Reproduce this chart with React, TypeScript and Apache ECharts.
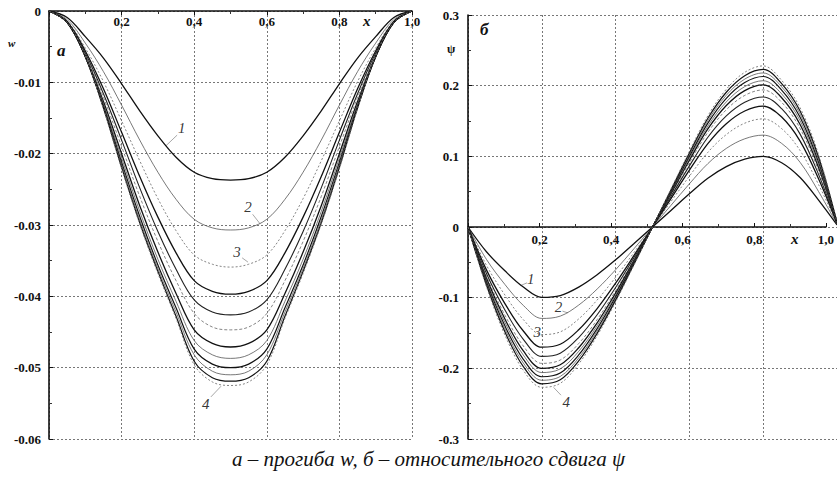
import React, { useEffect, useRef } from "react";
import * as echarts from "echarts";

// x positions of the read-off points (both panels)
const XS = [0, 0.05, 0.1, 0.15, 0.2, 0.25, 0.3, 0.35, 0.4, 0.45, 0.5, 0.55, 0.6, 0.65, 0.7, 0.75, 0.8, 0.85, 0.9, 0.95, 1.0];

// panel a: deflection w (12 curves, 1 = shallowest, 12 = deepest "4")
const W1 = [0, -0.0009, -0.0036, -0.0066, -0.0102, -0.014, -0.0175, -0.0205, -0.0226, -0.0235, -0.0237, -0.0235, -0.0226, -0.0205, -0.0175, -0.014, -0.0102, -0.0066, -0.0036, -0.0009, 0];
const W2 = [0, -0.0012, -0.0045, -0.0085, -0.0132, -0.0181, -0.0226, -0.0264, -0.0292, -0.0304, -0.0307, -0.0304, -0.0292, -0.0264, -0.0226, -0.0181, -0.0132, -0.0085, -0.0045, -0.0012, 0];
const W3 = [0, -0.0014, -0.0052, -0.0099, -0.0154, -0.021, -0.0263, -0.0308, -0.0342, -0.0355, -0.0359, -0.0355, -0.0342, -0.0308, -0.0263, -0.021, -0.0154, -0.0099, -0.0052, -0.0014, 0];
const W4 = [0, -0.0015, -0.0056, -0.0109, -0.017, -0.0232, -0.0289, -0.0339, -0.0378, -0.0393, -0.0397, -0.0393, -0.0378, -0.0339, -0.0289, -0.0232, -0.017, -0.0109, -0.0056, -0.0015, 0];
const W5 = [0, -0.0015, -0.0059, -0.0116, -0.0181, -0.0248, -0.0309, -0.0362, -0.0405, -0.0422, -0.0426, -0.0422, -0.0405, -0.0362, -0.0309, -0.0248, -0.0181, -0.0116, -0.0059, -0.0015, 0];
const W6 = [0, -0.0016, -0.0061, -0.0121, -0.019, -0.026, -0.0323, -0.0378, -0.0424, -0.0443, -0.0447, -0.0443, -0.0424, -0.0378, -0.0323, -0.026, -0.019, -0.0121, -0.0061, -0.0016, 0];
const W7 = [0, -0.0016, -0.0063, -0.0127, -0.02, -0.0273, -0.0338, -0.0396, -0.0447, -0.0466, -0.0471, -0.0466, -0.0447, -0.0396, -0.0338, -0.0273, -0.02, -0.0127, -0.0063, -0.0016, 0];
const W8 = [0, -0.0016, -0.0064, -0.013, -0.0206, -0.0281, -0.0348, -0.0407, -0.0462, -0.0482, -0.0487, -0.0482, -0.0462, -0.0407, -0.0348, -0.0281, -0.0206, -0.013, -0.0064, -0.0016, 0];
const W9 = [0, -0.0016, -0.0064, -0.0133, -0.0212, -0.0288, -0.0356, -0.0416, -0.0474, -0.0495, -0.05, -0.0495, -0.0474, -0.0416, -0.0356, -0.0288, -0.0212, -0.0133, -0.0064, -0.0016, 0];
const W10 = [0, -0.0016, -0.0064, -0.0135, -0.0215, -0.0293, -0.0361, -0.0422, -0.0482, -0.0505, -0.051, -0.0505, -0.0482, -0.0422, -0.0361, -0.0293, -0.0215, -0.0135, -0.0064, -0.0016, 0];
const W11 = [0, -0.0016, -0.0064, -0.0136, -0.0219, -0.0297, -0.0365, -0.0428, -0.0491, -0.0514, -0.0519, -0.0514, -0.0491, -0.0428, -0.0365, -0.0297, -0.0219, -0.0136, -0.0064, -0.0016, 0];
const W12 = [0, -0.0016, -0.0063, -0.0137, -0.0221, -0.0299, -0.0368, -0.0431, -0.0496, -0.052, -0.0525, -0.052, -0.0496, -0.0431, -0.0368, -0.0299, -0.0221, -0.0137, -0.0063, -0.0016, 0];

// panel б: relative shear psi
const P1 = [0, -0.035, -0.062, -0.085, -0.0995, -0.097, -0.085, -0.0675, -0.0465, -0.0235, 0, 0.0235, 0.047, 0.069, 0.0855, 0.096, 0.1, 0.091, 0.07, 0.038, 0.003];
const P2 = [0, -0.0458, -0.0813, -0.111, -0.1294, -0.1261, -0.1105, -0.0878, -0.0605, -0.0306, 0, 0.0306, 0.0611, 0.0897, 0.1112, 0.1248, 0.13, 0.1183, 0.0915, 0.0502, 0.0039];
const P3 = [0, -0.0542, -0.0962, -0.1311, -0.1522, -0.1484, -0.1301, -0.1033, -0.0711, -0.036, 0, 0.036, 0.0719, 0.1056, 0.1308, 0.1469, 0.153, 0.1392, 0.1082, 0.0601, 0.0046];
const P4 = [0, -0.0607, -0.1084, -0.1472, -0.1701, -0.1659, -0.1454, -0.1154, -0.0795, -0.0402, 0, 0.0402, 0.0804, 0.118, 0.1462, 0.1642, 0.171, 0.1556, 0.1216, 0.0682, 0.0051];
const P5 = [0, -0.0657, -0.1174, -0.159, -0.1831, -0.1785, -0.1564, -0.1242, -0.0856, -0.0432, 0, 0.0432, 0.0865, 0.127, 0.1573, 0.1766, 0.184, 0.1674, 0.1314, 0.0745, 0.0055];
const P6 = [0, -0.0696, -0.1247, -0.1684, -0.193, -0.1882, -0.1649, -0.131, -0.0902, -0.0456, 0, 0.0456, 0.0912, 0.1339, 0.1659, 0.1862, 0.194, 0.1765, 0.1393, 0.0799, 0.0058];
const P7 = [0, -0.0726, -0.1302, -0.1753, -0.2, -0.195, -0.1709, -0.1357, -0.0935, -0.0472, 0, 0.0472, 0.0945, 0.1387, 0.1719, 0.193, 0.201, 0.1829, 0.1451, 0.0842, 0.006];
const P8 = [0, -0.0751, -0.135, -0.1813, -0.206, -0.2008, -0.176, -0.1397, -0.0963, -0.0486, 0, 0.0486, 0.0973, 0.1428, 0.177, 0.1987, 0.207, 0.1884, 0.1503, 0.088, 0.0062];
const P9 = [0, -0.0777, -0.1399, -0.1872, -0.2119, -0.2066, -0.1811, -0.1438, -0.099, -0.0501, 0, 0.0501, 0.1001, 0.147, 0.1821, 0.2045, 0.213, 0.1938, 0.1553, 0.0918, 0.0064];
const P10 = [0, -0.0798, -0.1441, -0.1925, -0.2169, -0.2115, -0.1853, -0.1472, -0.1014, -0.0512, 0, 0.0512, 0.1025, 0.1504, 0.1864, 0.2093, 0.218, 0.1984, 0.1598, 0.0953, 0.0065];
const P11 = [0, -0.0821, -0.1483, -0.1976, -0.2219, -0.2163, -0.1896, -0.1505, -0.1037, -0.0524, 0, 0.0524, 0.1048, 0.1539, 0.1907, 0.2141, 0.223, 0.2029, 0.1641, 0.099, 0.0067];
const P12 = [0, -0.0844, -0.1528, -0.2029, -0.2269, -0.2212, -0.1938, -0.1539, -0.106, -0.0536, 0, 0.0536, 0.1072, 0.1573, 0.1949, 0.2189, 0.228, 0.2075, 0.1687, 0.1026, 0.0068];

const W_CURVES = [W1, W2, W3, W4, W5, W6, W7, W8, W9, W10, W11, W12];
const P_CURVES = [P1, P2, P3, P4, P5, P6, P7, P8, P9, P10, P11, P12];

// curve number labels (text, anchor in data units) and leader lines
const W_LABEL_TEXT = ["1", "2", "3", "4"];
const W_LABEL_AT = [[0.366, -0.0164], [0.548, -0.0275], [0.518, -0.0338], [0.432, -0.0551]];
const W_LEADERS = [[[0.353, -0.0174], [0.322, -0.0189]], [[0.561, -0.0285], [0.581, -0.0298]], [[0.532, -0.0346], [0.548, -0.0352]], [[0.446, -0.0541], [0.474, -0.0526]]];
const P_LABEL_TEXT = ["1", "2", "3", "4"];
const P_LABEL_AT = [[0.170, -0.0735], [0.245, -0.1125], [0.188, -0.148], [0.266, -0.2475]];
const P_LEADERS = [[[0.16, -0.079], [0.142, -0.083]], [[0.256, -0.119], [0.27, -0.1215]], [[0.197, -0.153], [0.203, -0.1555]], [[0.252, -0.238], [0.232, -0.227]]];

const X_TICKS = { min: 0, max: 1, interval: 0.2 };
const W_TICKS = { min: -0.06, max: 0, interval: 0.01 };
const P_TICKS = { min: -0.3, max: 0.3, interval: 0.1 };
const P_UPPER = { min: 0, max: 0.3, interval: 0.1 };

const FONT = '"Liberation Serif", "Times New Roman", serif';

const LINE_STYLES = [
  { color: "#111", width: 1.3, type: "solid" },
  { color: "#555", width: 0.8, type: "solid" },
  { color: "#777", width: 0.9, type: [2, 2] },
  { color: "#111", width: 1.3, type: "solid" },
  { color: "#222", width: 1.1, type: "solid" },
  { color: "#666", width: 0.8, type: [3, 2] },
  { color: "#111", width: 1.3, type: "solid" },
  { color: "#555", width: 0.8, type: "solid" },
  { color: "#111", width: 1.2, type: "solid" },
  { color: "#555", width: 0.8, type: "solid" },
  { color: "#111", width: 1.2, type: "solid" },
  { color: "#777", width: 0.9, type: [2, 2] },
];

const xLabel = (v: number) => (v === 0 ? "0" : v.toFixed(1).replace(".", ","));

export default function App() {
  const ref = useRef<HTMLDivElement>(null);
  useEffect(() => {
    if (!ref.current) return;
    const chart = echarts.init(ref.current, null, { renderer: "svg" });

    const gridLine = { show: true, lineStyle: { color: "#777", width: 1, type: [2, 2] } };
    const axisFont = { fontFamily: FONT, fontSize: 13, fontWeight: "bold", color: "#111" };
    const blackLine = { show: true, onZero: false, lineStyle: { color: "#111", width: 1.6 } };
    const ticks = { show: true, inside: true, length: 4, lineStyle: { color: "#111" } };
    const minor = { show: true, splitNumber: 2, length: 3, lineStyle: { color: "#333" } };

    const curveSeries = (curves: number[][], idx: number) =>
      curves.map((c, k) => ({
        type: "line",
        xAxisIndex: idx,
        yAxisIndex: idx,
        data: XS.map((x, i) => [x, c[i]]),
        showSymbol: false,
        smooth: 0.35,
        lineStyle: LINE_STYLES[k],
        z: 3,
        silent: true,
      }));

    const labelSeries = (texts: string[], at: number[][], idx: number) => ({
      type: "scatter",
      xAxisIndex: idx,
      yAxisIndex: idx,
      symbolSize: 0,
      data: at.map((p, i) => ({ value: p, name: texts[i] })),
      label: {
        show: true,
        position: "inside",
        formatter: (p: any) => p.name,
        fontFamily: FONT,
        fontStyle: "italic",
        fontSize: 15,
        color: "#000",
      },
      z: 5,
      silent: true,
    });

    const leaderSeries = (segs: number[][][], idx: number) => ({
      type: "lines",
      coordinateSystem: "cartesian2d",
      xAxisIndex: idx,
      yAxisIndex: idx,
      data: segs.map((s) => ({ coords: s })),
      lineStyle: { color: "#222", width: 0.8, type: "solid" },
      z: 5,
      silent: true,
    });

    chart.setOption({
      animation: false,
      backgroundColor: "#fff",
      grid: [
        { left: 49, top: 11, width: 363, height: 428 },
        { left: 468, top: 15, width: 369, height: 424 },
        // upper half of panel б: carries the x axis drawn along psi = 0
        { left: 468, top: 15, width: 369, height: 212 },
      ],
      xAxis: [
        {
          gridIndex: 0,
          type: "value",
          position: "top",
          ...X_TICKS,
          axisLine: blackLine,
          axisTick: ticks,
          minorTick: minor,
          axisLabel: { ...axisFont, inside: true, margin: 4, showMinLabel: false, formatter: xLabel },
          splitLine: gridLine,
        },
        {
          gridIndex: 1,
          type: "value",
          position: "bottom",
          ...X_TICKS,
          axisLine: { show: false },
          axisTick: { show: false },
          axisLabel: { show: false },
          splitLine: gridLine,
        },
        {
          gridIndex: 2,
          type: "value",
          position: "bottom",
          ...X_TICKS,
          axisLine: blackLine,
          axisTick: ticks,
          minorTick: minor,
          axisLabel: { ...axisFont, margin: 6, showMinLabel: false, formatter: xLabel },
          splitLine: { show: false },
        },
      ],
      yAxis: [
        {
          gridIndex: 0,
          type: "value",
          ...W_TICKS,
          axisLine: blackLine,
          axisTick: ticks,
          minorTick: minor,
          axisLabel: { ...axisFont, margin: 8, formatter: (v: number) => (Math.abs(v) < 1e-9 ? "0" : v.toFixed(2)) },
          splitLine: gridLine,
        },
        {
          gridIndex: 1,
          type: "value",
          ...P_TICKS,
          axisLine: blackLine,
          axisTick: ticks,
          minorTick: minor,
          axisLabel: { ...axisFont, margin: 9, formatter: (v: number) => (Math.abs(v) < 1e-9 ? "0" : v.toFixed(1)) },
          splitLine: gridLine,
        },
        {
          gridIndex: 2,
          type: "value",
          ...P_UPPER,
          show: false,
        },
      ],
      series: [
        ...curveSeries(W_CURVES, 0),
        ...curveSeries(P_CURVES, 1),
        labelSeries(W_LABEL_TEXT, W_LABEL_AT, 0),
        labelSeries(P_LABEL_TEXT, P_LABEL_AT, 1),
        leaderSeries(W_LEADERS, 0),
        leaderSeries(P_LEADERS, 1),
      ],
      graphic: [
        { type: "text", left: 8, top: 37, style: { text: "w", font: `italic bold 11px ${FONT}`, fill: "#111" } },
        { type: "text", left: 57, top: 42, style: { text: "а", font: `italic bold 17px ${FONT}`, fill: "#111" } },
        { type: "text", left: 363, top: 13, style: { text: "x", font: `italic bold 15px ${FONT}`, fill: "#111" } },
        { type: "text", left: 447, top: 43, style: { text: "ψ", font: `bold 12px ${FONT}`, fill: "#111" } },
        { type: "text", left: 480, top: 21, style: { text: "б", font: `italic bold 17px ${FONT}`, fill: "#111" } },
        { type: "text", left: 791, top: 231, style: { text: "x", font: `italic bold 15px ${FONT}`, fill: "#111" } },
        {
          type: "text",
          left: 232,
          top: 448,
          style: { text: "а – прогиба w, б – относительного сдвига ψ", font: `italic 21px ${FONT}`, fill: "#111" },
        },
      ],
    });
    return () => chart.dispose();
  }, []);
  return <div ref={ref} style={{ position: "fixed", left: 0, top: 0, width: 837, height: 489, background: "#fff" }} />;
}
